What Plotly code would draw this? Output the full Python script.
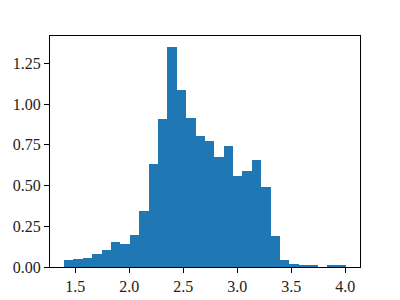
import plotly.graph_objects as go

bin_start = 1.395
bin_width = 0.0870
densities = [0.041, 0.051, 0.057, 0.082, 0.102, 0.151, 0.143, 0.198, 0.345, 0.633,
             0.909, 1.350, 1.087, 0.915, 0.805, 0.774, 0.676, 0.743, 0.556, 0.590,
             0.658, 0.492, 0.192, 0.045, 0.016, 0.008, 0.008, 0.0, 0.008, 0.008]
x_ticks = [1.5, 2.0, 2.5, 3.0, 3.5, 4.0]
y_ticks = [0.0, 0.25, 0.5, 0.75, 1.0, 1.25]

centers = [bin_start + bin_width * (i + 0.5) for i in range(len(densities))]

fig = go.Figure(go.Bar(x=centers, y=densities, width=[bin_width] * len(densities),
                       marker=dict(color="#1f77b4", line=dict(width=0))))

axis_common = dict(showline=True, mirror=True, linecolor="black", linewidth=1,
                   ticks="outside", ticklen=5, tickwidth=1, tickcolor="black",
                   showgrid=False, zeroline=False, automargin=False,
                   tickfont=dict(family="Liberation Serif", size=16, color="#222222"))

fig.update_layout(
    width=400, height=300,
    margin=dict(l=50, r=40, t=36, b=33),
    plot_bgcolor="white", paper_bgcolor="white",
    bargap=0, showlegend=False,
    xaxis=dict(range=[1.265, 4.137], tickvals=x_ticks, tickformat=".1f", **axis_common),
    yaxis=dict(range=[0, 1.4175], tickvals=y_ticks, tickformat=".2f", **axis_common),
)

fig.write_html("out.html")
